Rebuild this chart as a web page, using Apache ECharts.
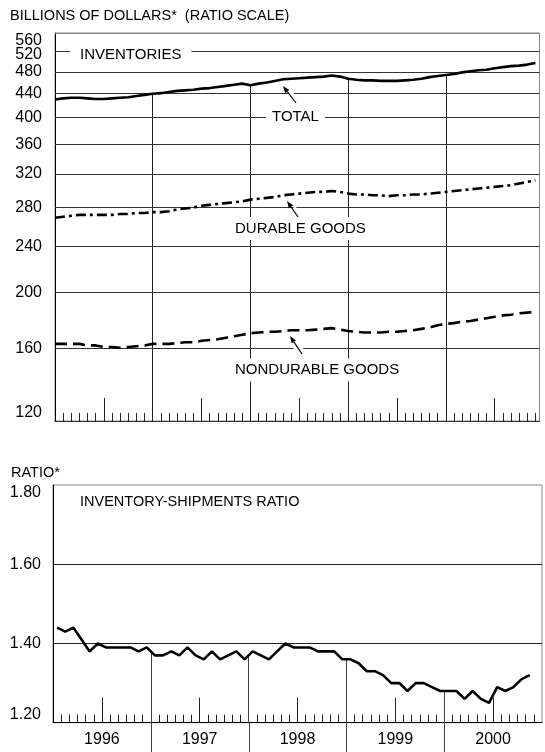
<!DOCTYPE html>
<html><head><meta charset="utf-8">
<script src="https://cdn.jsdelivr.net/npm/echarts@6/dist/echarts.min.js"></script>
<style>html,body{margin:0;padding:0;background:#fff}#c{width:545px;height:752px}</style>
</head><body><div id="c"></div>
<script>
// ---- DATA (monthly, Jan 1996 onward) ----
const years = ['1996', '1997', '1998', '1999', '2000'];
const invTicks = [120, 160, 200, 240, 280, 320, 360, 400, 440, 480, 520, 560];
const yearBounds = [12, 24, 36, 48];
const midYears = [6, 18, 30, 42, 54];

const total = [
  430, 432, 433, 433, 432, 431, 431, 432, 433, 434, 436, 438,
  440, 441, 443, 445, 446, 447, 449, 450, 452, 454, 456, 458,
  455, 458, 460, 463, 466, 467, 468, 469, 470, 471, 473, 471,
  467, 465, 464, 464, 463, 463, 463, 464, 465, 467, 470, 472,
  474, 476, 479, 481, 483, 484, 487, 489, 491, 492, 494, 497
];
const durable = [
  269, 270, 271, 272, 272, 272, 272, 272, 273, 273, 274, 274,
  275, 275, 276, 278, 279, 280, 282, 283, 284, 285, 286, 287,
  289, 290, 291, 292, 294, 295, 296, 297, 298, 298, 299, 298,
  296, 295, 295, 294, 294, 293, 294, 294, 295, 295, 296, 297,
  298, 299, 300, 301, 302, 303, 304, 305, 306, 308, 310, 312
];
const nondurable = [
  163, 163, 163, 163, 162, 162, 161, 161, 160.5, 161, 161.5, 162,
  163, 163, 163, 163.5, 164, 164, 165, 165.5, 166, 167, 168, 169,
  170, 170.5, 171, 171, 171.5, 172, 172, 172, 172.5, 173, 173.5, 172.5,
  171.5, 171, 170.5, 170.5, 170.5, 171, 171, 171.5, 172, 173, 174, 175.5,
  176.5, 177, 178, 178.5, 179.5, 180.5, 181.5, 182.5, 183, 184, 184.5, 185
];
const ratio = [
  1.44, 1.43, 1.44, 1.41, 1.38, 1.40, 1.39, 1.39, 1.39, 1.39, 1.38, 1.39,
  1.37, 1.37, 1.38, 1.37, 1.39, 1.37, 1.36, 1.38, 1.36, 1.37, 1.38, 1.36,
  1.38, 1.37, 1.36, 1.38, 1.40, 1.39, 1.39, 1.39, 1.38, 1.38, 1.38, 1.36,
  1.36, 1.35, 1.33, 1.33, 1.32, 1.30, 1.30, 1.28, 1.30, 1.30, 1.29, 1.28,
  1.28, 1.28, 1.26, 1.28, 1.26, 1.25, 1.29, 1.28, 1.29, 1.31, 1.32
];

// ---- build ----
const FONT = '"Liberation Sans", Arial, sans-serif';
const topData = a => a.map((v, i) => [i, v]);
const ratioData = ratio.map((v, i) => [i + 0.5, v]);

const gridColor = '#333';
const topVLines = yearBounds.map(b => [{coord: [b, total[b]]}, {coord: [b, 120]}]);
const botVLines = yearBounds.map(b => [{coord: [b, (ratio[b - 1] + ratio[b]) / 2]}, {coord: [b, 1.2]}]);
const hLines = invTicks.map(v => {
  const item = {yAxis: v};
  if (v === 560) { item.lineStyle = {color: '#888'}; item.label = {verticalAlign: 'top'}; }
  if (v === 520) { item.label = {formatter: '{a|' + v + '}', rich: {a: {padding: [6, 0, 0, 0], fontSize: 16, fontFamily: FONT, color: '#000'}}}; }
  if (v === 120) { item.label = {verticalAlign: 'bottom'}; }
  return item;
});

function arrow(x1, y1, x2, y2) {
  const dx = x2 - x1, dy = y2 - y1, L = Math.hypot(dx, dy), ux = dx / L, uy = dy / L;
  const hl = 7, hw = 2.6;
  const bx = x2 - ux * hl, by = y2 - uy * hl;
  return [
    {type: 'line', z: 101, silent: true, shape: {x1: x1, y1: y1, x2: x2 - ux * 9, y2: y2 - uy * 9}, style: {stroke: '#fff', lineWidth: 8}},
    {type: 'line', z: 102, silent: true, shape: {x1: x1, y1: y1, x2: bx, y2: by}, style: {stroke: '#000', lineWidth: 1.2}},
    {type: 'polygon', z: 102, silent: true, shape: {points: [[x2, y2], [bx - uy * hw, by + ux * hw], [bx + uy * hw, by - ux * hw]]}, style: {fill: '#000'}}
  ];
}
function label(text, x, y, size, padX, padY, bg) {
  return {type: 'text', z: 100, silent: true, x: x, y: y,
    style: {text: text, fill: '#000', fontSize: size, fontFamily: FONT, align: 'left', verticalAlign: 'middle',
      backgroundColor: bg ? '#fff' : 'transparent', padding: [padY, padX]}};
}

const chart = echarts.init(document.getElementById('c'), null, {renderer: 'canvas'});
chart.setOption({
  animation: false,
  backgroundColor: '#fff',
  textStyle: {fontFamily: FONT, color: '#000'},
  grid: [
    {left: 55, top: 33, width: 484.5, height: 388, show: true, borderColor: '#888', borderWidth: 1, containLabel: false},
    {left: 53, top: 485, width: 489.5, height: 237.7, show: true, borderColor: '#888', borderWidth: 1, containLabel: false},
    {left: 53, top: 722.7, width: 489.5, height: 29.3, show: false, containLabel: false}
  ],
  xAxis: [
    {gridIndex: 0, type: 'value', min: 0, max: 59.5, interval: 6,
      axisLine: {show: true, lineStyle: {color: '#000', width: 1}},
      axisTick: {show: true, inside: true, length: 23, customValues: midYears, lineStyle: {color: '#222', width: 1}},
      minorTick: {show: true, splitNumber: 6, length: 8, lineStyle: {color: '#222', width: 1}},
      axisLabel: {show: false}, splitLine: {show: false}, minorSplitLine: {show: false}},
    {gridIndex: 1, type: 'value', min: 0, max: 60, interval: 6,
      axisLine: {show: true, lineStyle: {color: '#000', width: 1}},
      axisTick: {show: true, inside: true, length: 25, customValues: midYears, lineStyle: {color: '#222', width: 1}},
      minorTick: {show: true, splitNumber: 6, length: 8, lineStyle: {color: '#222', width: 1}},
      axisLabel: {show: true, margin: 9, fontSize: 16, color: '#000', fontFamily: FONT,
        formatter: v => (Math.round(v) % 12 === 6 ? years[(Math.round(v) - 6) / 12] : '')},
      splitLine: {show: false}},
    {gridIndex: 2, type: 'value', min: 0, max: 60, interval: 12,
      axisLine: {show: false}, axisTick: {show: false}, axisLabel: {show: false},
      splitLine: {show: true, showMinLine: false, showMaxLine: false, lineStyle: {color: '#444', width: 1}}}
  ],
  yAxis: [
    {gridIndex: 0, type: 'log', logBase: 10, min: 120, max: 560,
      axisLine: {show: true, lineStyle: {color: '#000', width: 1}},
      axisTick: {show: false}, axisLabel: {show: false}, splitLine: {show: false}},
    {gridIndex: 1, type: 'value', min: 1.2, max: 1.8, interval: 0.2,
      axisLine: {show: true, lineStyle: {color: '#000', width: 1}},
      axisTick: {show: false},
      axisLabel: {show: true, margin: 12, fontSize: 16, color: '#000', fontFamily: FONT,
        formatter: v => v.toFixed(2), verticalAlignMinLabel: 'bottom', verticalAlignMaxLabel: 'top'},
      splitLine: {show: true, showMinLine: false, showMaxLine: false, lineStyle: {color: '#222', width: 1}}},
    {gridIndex: 2, type: 'value', show: false}
  ],
  series: [
    {type: 'line', name: 'TOTAL', xAxisIndex: 0, yAxisIndex: 0, data: topData(total), symbol: 'none',
      lineStyle: {color: '#000', width: 2.6}, z: 5,
      markLine: {silent: true, symbol: ['none', 'none'], label: {show: false},
        lineStyle: {color: '#222', width: 1, type: 'solid'}, data: topVLines}},
    {type: 'line', name: 'DURABLE GOODS', xAxisIndex: 0, yAxisIndex: 0, data: topData(durable), symbol: 'none',
      lineStyle: {color: '#000', width: 2.6, type: [10, 4, 3, 4]}, z: 5,
      markLine: {silent: true, symbol: ['none', 'none'],
        label: {show: true, position: 'start', distance: 13, fontSize: 16, color: '#000', fontFamily: FONT,
          formatter: p => String(p.value)},
        lineStyle: {color: gridColor, width: 1, type: 'solid'}, data: hLines}},
    {type: 'line', name: 'NONDURABLE GOODS', xAxisIndex: 0, yAxisIndex: 0, data: topData(nondurable), symbol: 'none',
      lineStyle: {color: '#000', width: 2.6, type: [12, 6]}, z: 5},
    {type: 'line', name: 'INVENTORY-SHIPMENTS RATIO', xAxisIndex: 1, yAxisIndex: 1, data: ratioData, symbol: 'none',
      lineStyle: {color: '#000', width: 2.6}, z: 5,
      markLine: {silent: true, symbol: ['none', 'none'], label: {show: false},
        lineStyle: {color: '#444', width: 1, type: 'solid'}, data: botVLines}}
  ],
  graphic: [
    label('BILLIONS OF DOLLARS*  (RATIO SCALE)', 10, 15.5, 14.5, 0, 0, false),
    label('INVENTORIES', 70, 55, 15, 10, 3, true),
    label('TOTAL', 266, 117, 15, 6, 3, true),
    label('DURABLE GOODS', 229, 228.5, 15, 6, 4, true),
    label('NONDURABLE GOODS', 229, 370, 15, 6, 4, true),
    label('RATIO*', 11, 472.5, 14.5, 0, 0, false),
    label('INVENTORY-SHIPMENTS RATIO', 80, 502, 14.5, 0, 0, false)
  ].concat(arrow(296, 103, 283, 86), arrow(298, 217, 287, 201), arrow(302, 354, 290, 336))
});
</script>
</body></html>
